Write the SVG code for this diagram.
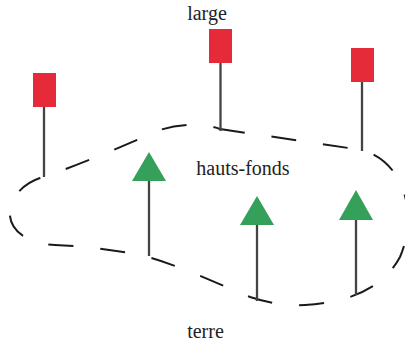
<svg xmlns="http://www.w3.org/2000/svg" width="405" height="346" viewBox="0 0 405 346">
<style>
.lbl{font-family:"Liberation Serif","Times New Roman",serif;font-size:20px;fill:#222;text-anchor:middle}
.pole{stroke:#444;stroke-width:2.3;fill:none}
.flag{fill:#E52B3A}
.tri{fill:#35A05A}
.loop{fill:none;stroke:#1a1a1a;stroke-width:2;stroke-dasharray:25 27}
</style>
<rect width="405" height="346" fill="#fff"/>
<g id="zone">
<path class="loop" d="M 220 129 L 362 150 C 405 162 418 215 400 257 C 385 285 355 302 305 305 C 285 306 265 302 250 297 C 205 278 170 262 140 255 C 110 249 80 246 55 245 C 20 243 8 225 10 210 C 12 195 25 183 40 178 C 80 165 125 145 160 130 C 175 125 200 122 220 129 Z"/>
</g>
<g id="connectors">
<line class="pole" x1="44" y1="107" x2="44" y2="177"/>
<line class="pole" x1="220.5" y1="63" x2="220.5" y2="131"/>
<line class="pole" x1="362" y1="82" x2="362" y2="151"/>
<line class="pole" x1="149" y1="180" x2="149" y2="256"/>
<line class="pole" x1="257" y1="224" x2="257" y2="301"/>
<line class="pole" x1="356" y1="219" x2="356" y2="295"/>
</g>
<g id="flag1"><rect class="flag" x="33" y="73" width="23" height="34"/></g>
<g id="flag2"><rect class="flag" x="209" y="29" width="23" height="34"/></g>
<g id="flag3"><rect class="flag" x="351" y="48" width="23" height="34"/></g>
<g id="marker1"><polygon class="tri" points="149,152 166,181 132,181"/></g>
<g id="marker2"><polygon class="tri" points="257,196 274,225 240,225"/></g>
<g id="marker3"><polygon class="tri" points="356,190 373,220 339,220"/></g>
<g id="label-large"><text class="lbl" x="207" y="20">large</text></g>
<g id="label-hauts-fonds"><text class="lbl" x="243" y="175">hauts-fonds</text></g>
<g id="label-terre"><text class="lbl" x="205.5" y="338">terre</text></g>
</svg>
